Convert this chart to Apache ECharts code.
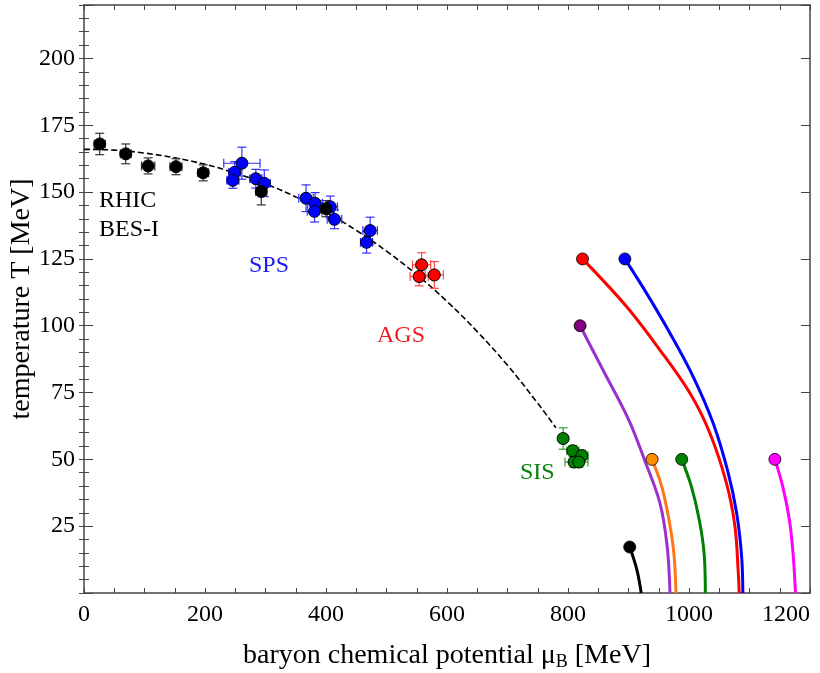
<!DOCTYPE html>
<html>
<head>
<meta charset="utf-8">
<script src="https://cdn.jsdelivr.net/npm/echarts@6/dist/echarts.min.js"></script>
<style>
  html, body { margin: 0; padding: 0; background: #fff; }
  #chart { width: 820px; height: 673px; }
</style>
</head>
<body>
<div id="chart"></div>
<script>
// freeze-out points: [muB, T, errMu, errT]
const rhicPoints = [
  [26, 168, 9, 4], [69, 164.3, 9, 3.7], [106, 159.8, 11, 3], [152, 159.5, 10, 3],
  [197, 157.2, 9, 3], [293, 150.2, 9, 5], [400, 143.8, 12, 3]
];
const spsPoints = [
  [261, 160.8, 30, 6], [249, 157.4, 10, 4], [246, 154.4, 10, 3], [284, 155, 10, 3.5],
  [298, 153.3, 10, 5], [367, 147.7, 12, 5], [382, 145.8, 12, 4], [381, 142.8, 12, 4],
  [407, 144.5, 12, 4], [414, 139.8, 12, 3.5], [473, 135.6, 12, 5], [467, 131.2, 10, 4]
];
const agsPoints = [
  [558, 122.8, 15, 4.5], [554, 118.4, 15, 3.5], [579, 119, 15, 5]
];
const sisPoints = [
  [792, 57.8, 6, 4], [808, 53.2, 10, 2], [823, 51.4, 10, 2], [810, 49, 15, 2], [818, 49, 15, 2]
];

// dashed freeze-out curve: [muB, T]
const freezeCurve = [
  [0, 166], [50, 165.7], [100, 164.6], [150, 162.8], [200, 160.4], [250, 157.1],
  [300, 153.1], [350, 148.2], [400, 142.4], [450, 135.7], [500, 127.9], [550, 119.1],
  [600, 109.1], [650, 97.8], [700, 85.2], [750, 71], [780, 61.8]
];

// coloured curves: first point carries the dot
const blueCurve = [[894, 125], [930, 112.1], [968.6, 97.2], [1007, 80.9], [1040, 63.5], [1065, 44.8], [1078.8, 29.8], [1087, 13.6], [1089, 0]];
const redCurve = [[824, 125], [897, 107.1], [952, 90.9], [1001.7, 74.7], [1034.7, 59.7], [1062, 41], [1076, 24.8], [1081.5, 7.4], [1083, 0]];
const purpleCurve = [[820, 100], [860, 82.5], [900, 65], [927, 49.5], [952, 33.6], [964, 17.3], [968.6, 0]];
const orangeCurve = [[939, 50], [955, 39.8], [967, 27.3], [975, 14.8], [978.5, 0]];
const greenCurve = [[988, 50], [1004, 39.8], [1017, 27.3], [1025, 14.8], [1027, 0]];
const magentaCurve = [[1142, 50], [1155, 39.8], [1166, 27.3], [1172, 14.8], [1176, 0]];
const blackCurve = [[902, 17.2], [914, 8.6], [921, 0]];

const xTicks = [0, 200, 400, 600, 800, 1000, 1200];
const yTicks = [25, 50, 75, 100, 125, 150, 175, 200];

const FONT = "'Liberation Serif', 'DejaVu Serif', serif";
const FRAME = '#444';

const chart = echarts.init(document.getElementById('chart'));

function errorBars(points, color) {
  return {
    type: 'custom',
    silent: true,
    z: 2,
    data: points,
    renderItem: function (params, api) {
      const mu = api.value(0), t = api.value(1), dm = api.value(2), dt = api.value(3);
      const l = api.coord([mu - dm, t]), r = api.coord([mu + dm, t]);
      const up = api.coord([mu, t + dt]), dn = api.coord([mu, t - dt]);
      const cap = 4.5;
      const segs = [
        [l[0], l[1], r[0], r[1]],
        [l[0], l[1] - cap, l[0], l[1] + cap],
        [r[0], r[1] - cap, r[0], r[1] + cap],
        [up[0], up[1], dn[0], dn[1]],
        [up[0] - cap, up[1], up[0] + cap, up[1]],
        [dn[0] - cap, dn[1], dn[0] + cap, dn[1]]
      ];
      return {
        type: 'group',
        children: segs.map(function (s) {
          return {
            type: 'line',
            shape: { x1: s[0], y1: s[1], x2: s[2], y2: s[3] },
            style: { stroke: color, lineWidth: 1.2 }
          };
        })
      };
    }
  };
}

function points(pts, color) {
  return {
    type: 'scatter',
    data: pts.map(p => [p[0], p[1]]),
    symbol: 'circle',
    symbolSize: 12,
    z: 4,
    itemStyle: { color: color, borderColor: '#000', borderWidth: 1, opacity: 1 }
  };
}

function curve(data, color) {
  return {
    type: 'line',
    data: data,
    smooth: 0.35,
    showSymbol: false,
    z: 3,
    lineStyle: { color: color, width: 3 }
  };
}

function dot(data, color) {
  return {
    type: 'scatter',
    data: [data[0]],
    symbolSize: 12,
    z: 5,
    itemStyle: { color: color, borderColor: '#000', borderWidth: 0.8, opacity: 1 }
  };
}

const xBase = {
  type: 'value', min: 0, max: 1200, interval: 50,
  splitLine: { show: false },
  axisLine: { show: true, onZero: false, lineStyle: { color: FRAME, width: 1.5 } },
  axisTick: { inside: true, length: 5, lineStyle: { color: FRAME, width: 1 } }
};
const yMajor = {
  type: 'value', min: 0, max: 220, interval: 25,
  splitLine: { show: false },
  axisLine: { show: true, onZero: false, lineStyle: { color: FRAME, width: 1.5 } },
  axisTick: { inside: true, length: 9, lineStyle: { color: FRAME, width: 1 } }
};
const yMinor = {
  type: 'value', min: 0, max: 220, interval: 5,
  splitLine: { show: false },
  axisLine: { show: false },
  axisLabel: { show: false },
  axisTick: { inside: true, length: 5, lineStyle: { color: FRAME, width: 1 } }
};

const option = {
  animation: false,
  backgroundColor: '#fff',
  grid: { left: 84, right: 10, top: 5, bottom: 80, containLabel: false, outerBoundsMode: 'none' },
  xAxis: [
    Object.assign({}, xBase, {
      position: 'bottom',
      name: '{a|baryon chemical potential μ}{s|B}{a| [MeV]}',
      nameLocation: 'middle',
      nameGap: 48,
      nameMoveOverlap: false,
      nameTextStyle: {
        rich: {
          a: { fontFamily: FONT, fontSize: 28, color: '#000' },
          s: { fontFamily: FONT, fontSize: 18, color: '#000', padding: [12, 0, 0, 0] }
        }
      },
      axisLabel: {
        fontFamily: FONT, fontSize: 24, color: '#000', margin: 10,
        alignMaxLabel: 'right',
        formatter: v => (xTicks.indexOf(v) >= 0 ? String(v) : '')
      }
    }),
    Object.assign({}, xBase, { position: 'top', axisLabel: { show: false } })
  ],
  yAxis: [
    Object.assign({}, yMajor, {
      position: 'left',
      name: 'temperature T [MeV]',
      nameLocation: 'middle',
      nameGap: 48,
      nameMoveOverlap: false,
      nameTextStyle: { fontFamily: FONT, fontSize: 28, color: '#000' },
      axisLabel: {
        fontFamily: FONT, fontSize: 24, color: '#000', margin: 9,
        formatter: v => (yTicks.indexOf(v) >= 0 ? String(v) : '')
      }
    }),
    Object.assign({}, yMinor, { position: 'left' }),
    Object.assign({}, yMajor, { position: 'right', axisLabel: { show: false } }),
    Object.assign({}, yMinor, { position: 'right' })
  ],
  graphic: [
    { type: 'text', left: 99, top: 186, style: { text: 'RHIC\nBES-I', font: '24px ' + FONT, fill: '#000', lineHeight: 29 } },
    { type: 'text', left: 249, top: 254, style: { text: 'SPS', font: '24px ' + FONT, fill: '#1a1aff' } },
    { type: 'text', left: 377, top: 324, style: { text: 'AGS', font: '24px ' + FONT, fill: '#ee1c1c' } },
    { type: 'text', left: 520, top: 461, style: { text: 'SIS', font: '24px ' + FONT, fill: '#0a800a' } }
  ],
  series: [
    {
      type: 'line', data: freezeCurve, smooth: 0.4, showSymbol: false, z: 1,
      lineStyle: { color: '#000', width: 1.6, type: [6, 3] }
    },
    errorBars(rhicPoints, '#333'),
    errorBars(spsPoints, 'rgba(30,30,255,0.9)'),
    errorBars(agsPoints, 'rgba(255,40,40,0.85)'),
    errorBars(sisPoints, 'rgba(20,140,20,0.85)'),
    points(spsPoints, '#0000ff'),
    points(rhicPoints, '#000'),
    points(agsPoints, '#ff0000'),
    points(sisPoints, '#008000'),
    curve(blueCurve, '#0000ff'),
    curve(redCurve, '#ff0000'),
    curve(purpleCurve, '#9b30d0'),
    curve(orangeCurve, '#ff7518'),
    curve(greenCurve, '#008000'),
    curve(magentaCurve, '#ff00ff'),
    curve(blackCurve, '#000'),
    dot(blueCurve, '#0000ff'),
    dot(redCurve, '#ff0000'),
    dot(purpleCurve, '#800080'),
    dot(orangeCurve, '#ff8c00'),
    dot(greenCurve, '#008000'),
    dot(magentaCurve, '#ff00ff'),
    dot(blackCurve, '#000')
  ]
};

chart.setOption(option);
</script>
</body>
</html>
